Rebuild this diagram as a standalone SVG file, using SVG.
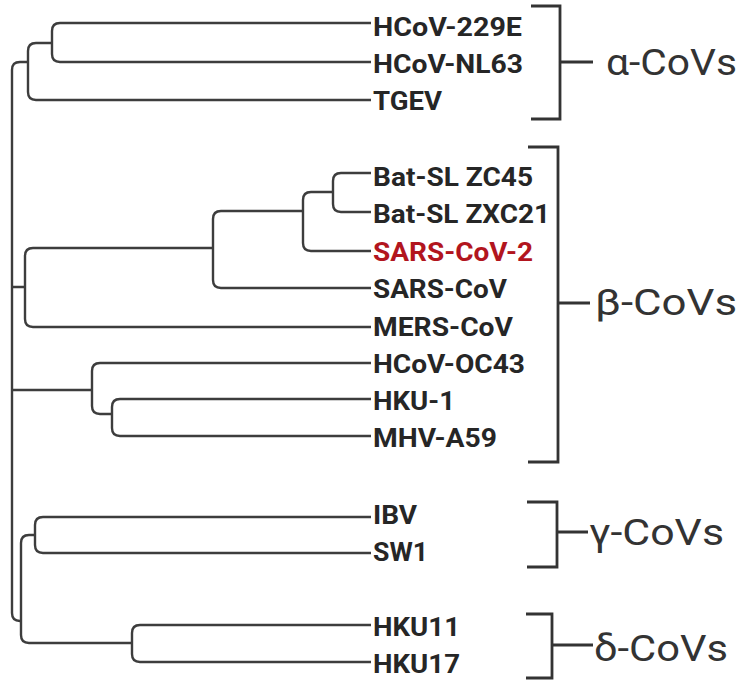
<svg xmlns="http://www.w3.org/2000/svg" width="748" height="686" viewBox="0 0 748 686">
<style>
.br{fill:none;stroke:#3d3d3d;stroke-width:2.4;stroke-linecap:butt;stroke-linejoin:round}
.bk{fill:none;stroke:#333;stroke-width:2.8;stroke-linejoin:miter}
.lb{font-family:Roboto,"Liberation Sans",sans-serif;font-weight:700;font-size:26px;fill:#262626}
.red{fill:#b2151e}
.gk{font-family:Roboto,"Liberation Sans",sans-serif;font-weight:400;font-size:37px;fill:#333}
</style>
<rect width="748" height="686" fill="#fff"/>
<g id="connectors">
<path class="br" d="M28 62H20Q12 62 12 70V613Q12 621 20 621H21"/>
<path class="br" d="M12 287H25M12 390H92"/>
<path class="br" d="M52 43H36Q28 43 28 51V92Q28 100 36 100H371"/>
<path class="br" d="M371 23H60Q52 23 52 31V54Q52 62 60 62H371"/>
<path class="br" d="M213 248H33Q25 248 25 256V319Q25 327 33 327H371"/>
<path class="br" d="M303 211H221Q213 211 213 219V280Q213 288 221 288H371"/>
<path class="br" d="M333 192H311Q303 192 303 200V243Q303 251 311 251H371"/>
<path class="br" d="M371 173H341Q333 173 333 181V204Q333 212 341 212H371"/>
<path class="br" d="M371 363H100Q92 363 92 371V406Q92 414 100 414H112"/>
<path class="br" d="M371 399H120Q112 399 112 407V428Q112 436 120 436H371"/>
<path class="br" d="M35 535H29Q21 535 21 543V635Q21 643 29 643H132"/>
<path class="br" d="M371 517H43Q35 517 35 525V545Q35 553 43 553H371"/>
<path class="br" d="M371 625H140Q132 625 132 633V654Q132 662 140 662H371"/>
</g>
<g id="leaf-hcov229e"><text class="lb" x="373" y="36" textLength="149" lengthAdjust="spacingAndGlyphs">HCoV-229E</text></g>
<g id="leaf-hcovnl63"><text class="lb" x="373" y="73" textLength="150" lengthAdjust="spacingAndGlyphs">HCoV-NL63</text></g>
<g id="leaf-tgev"><text class="lb" x="373" y="110" textLength="69" lengthAdjust="spacingAndGlyphs">TGEV</text></g>
<g id="leaf-zc45"><text class="lb" x="373" y="186" textLength="160" lengthAdjust="spacingAndGlyphs">Bat-SL ZC45</text></g>
<g id="leaf-zxc21"><text class="lb" x="373" y="223" textLength="177" lengthAdjust="spacingAndGlyphs">Bat-SL ZXC21</text></g>
<g id="leaf-sarscov2"><text class="lb red" x="373" y="261" textLength="160" lengthAdjust="spacingAndGlyphs">SARS-CoV-2</text></g>
<g id="leaf-sarscov"><text class="lb" x="373" y="298" textLength="134" lengthAdjust="spacingAndGlyphs">SARS-CoV</text></g>
<g id="leaf-merscov"><text class="lb" x="373" y="336" textLength="140" lengthAdjust="spacingAndGlyphs">MERS-CoV</text></g>
<g id="leaf-oc43"><text class="lb" x="373" y="373" textLength="152" lengthAdjust="spacingAndGlyphs">HCoV-OC43</text></g>
<g id="leaf-hku1"><text class="lb" x="373" y="410" textLength="82" lengthAdjust="spacingAndGlyphs">HKU-1</text></g>
<g id="leaf-mhv"><text class="lb" x="373" y="447" textLength="124" lengthAdjust="spacingAndGlyphs">MHV-A59</text></g>
<g id="leaf-ibv"><text class="lb" x="373" y="524" textLength="44" lengthAdjust="spacingAndGlyphs">IBV</text></g>
<g id="leaf-sw1"><text class="lb" x="373" y="561" textLength="55" lengthAdjust="spacingAndGlyphs">SW1</text></g>
<g id="leaf-hku11"><text class="lb" x="373" y="636" textLength="87" lengthAdjust="spacingAndGlyphs">HKU11</text></g>
<g id="leaf-hku17"><text class="lb" x="373" y="673" textLength="87" lengthAdjust="spacingAndGlyphs">HKU17</text></g>
<g id="clade-alpha">
<path class="bk" d="M531 6H560V119H531M560 62H593"/>
<text class="gk" x="606" y="75" textLength="131" lengthAdjust="spacingAndGlyphs">α-CoVs</text>
</g>
<g id="clade-beta">
<path class="bk" d="M528 147H558V462H528M558 303H590"/>
<text class="gk" x="595" y="315" textLength="142" lengthAdjust="spacingAndGlyphs">β-CoVs</text>
</g>
<g id="clade-gamma">
<path class="bk" d="M527 502H557V567H527M557 532H588"/>
<text class="gk" x="589" y="545" textLength="135" lengthAdjust="spacingAndGlyphs">γ-CoVs</text>
</g>
<g id="clade-delta">
<path class="bk" d="M526 614H552V678H526M552 645H593"/>
<text class="gk" x="594" y="661" textLength="134" lengthAdjust="spacingAndGlyphs">δ-CoVs</text>
</g>
</svg>
